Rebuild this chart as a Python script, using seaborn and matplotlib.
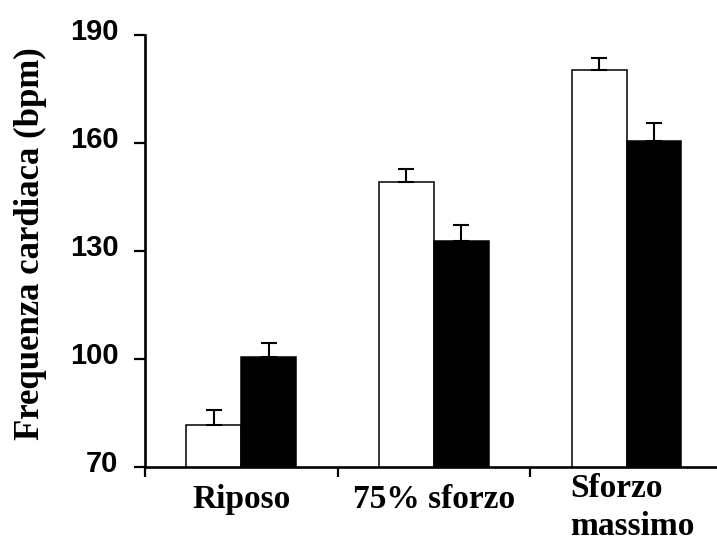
import numpy as np
import pandas as pd
import matplotlib
matplotlib.use("Agg")
import matplotlib.pyplot as plt
from matplotlib.ticker import FixedLocator
from matplotlib.transforms import ScaledTranslation
import seaborn as sns

# Heart rate (bpm) per exercise stage, two groups: mean and upper SEM
fasi = ["Riposo", "75% sforzo", "Sforzo\nmassimo"]
gruppi = ["Gruppo A", "Gruppo B"]
media_a = [81.7, 149.1, 180.3]
errore_a = [4.1, 3.7, 3.2]
media_b = [100.5, 132.8, 160.6]
errore_b = [4.0, 4.5, 4.9]
y_ticks = [70, 100, 130, 160, 190]

df = pd.DataFrame({
    "fase": fasi * 2,
    "gruppo": [gruppi[0]] * 3 + [gruppi[1]] * 3,
    "fc": media_a + media_b,
})

sns.set_style("ticks")
fig = plt.figure(figsize=(7.17, 5.42), dpi=100)
ax = fig.add_axes([0.2022, 0.1384, 0.806, 0.797])

sns.barplot(data=df, x="fase", y="fc", hue="gruppo", order=fasi,
            hue_order=gruppi, palette=["white", "black"], edgecolor="black",
            linewidth=1.1, width=0.57, gap=0, errorbar=None, legend=False,
            ax=ax)

# upper-only error bars anchored on the drawn bars
for cont, err in zip(ax.containers, [errore_a, errore_b]):
    xs = [b.get_x() + b.get_width() / 2 for b in cont]
    ys = [b.get_height() for b in cont]
    ax.errorbar(xs, ys, yerr=[np.zeros(len(err)), err], fmt="none",
                ecolor="black", elinewidth=1.5, capsize=5.6, capthick=1.5,
                zorder=5)

ax.set_ylim(70, 190)
ax.set_xlim(-0.5, 2.5)
ax.set_yticks(y_ticks)
ax.set_xticks(range(len(fasi)))
ax.set_xticklabels(fasi)
ax.xaxis.set_minor_locator(FixedLocator([-0.5, 0.5, 1.5, 2.5]))

for side in ["top", "right"]:
    ax.spines[side].set_visible(False)
for side in ["left", "bottom"]:
    ax.spines[side].set_linewidth(1.9)
    ax.spines[side].set_color("black")

ax.tick_params(axis="y", which="major", direction="out", length=8, width=1.6,
               pad=11, colors="black", labelsize=21)
ax.tick_params(axis="x", which="major", length=0, pad=12.5)
ax.tick_params(axis="x", which="minor", direction="out", length=7, width=1.6,
               colors="black")

for lab in ax.get_yticklabels():
    lab.set_fontfamily("Liberation Sans")
    lab.set_fontweight("bold")
for tick in ax.yaxis.get_major_ticks():
    tick.label1.set_transform(tick.label1.get_transform()
                              + ScaledTranslation(0, 4 / 72, fig.dpi_scale_trans))

for lab in ax.get_xticklabels():
    lab.set_fontfamily("Liberation Serif")
    lab.set_fontweight("bold")
    lab.set_fontsize(24)
    lab.set_color("black")
last = ax.xaxis.get_major_ticks()[2].label1
last.set_multialignment("left")
last.set_linespacing(1.3)
last.set_transform(last.get_transform()
                   + ScaledTranslation(4 / 72, 8.5 / 72, fig.dpi_scale_trans))

ax.set_xlabel("")
ax.set_ylabel("Frequenza cardiaca (bpm)", fontfamily="Liberation Serif",
              fontweight="bold", fontsize=25, color="black")
ax.yaxis.set_label_coords(0.065, 0.5498, transform=fig.transFigure)

fig.savefig("out.png", dpi=100, facecolor="white")
